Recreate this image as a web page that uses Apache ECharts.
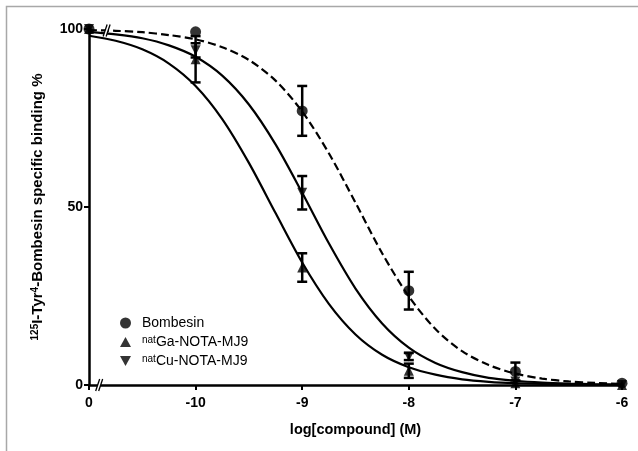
<!DOCTYPE html>
<html>
<head>
<meta charset="utf-8">
<script src="https://cdn.jsdelivr.net/npm/echarts@6/dist/echarts.min.js"></script>
<style>html,body{margin:0;padding:0;background:#fff;}#c{width:638px;height:451px;}</style>
</head>
<body>
<div id="c"></div>
<script>
// x positions: -11 stands for the "0" (no compound) point
var xPos = [-11, -10, -9, -8, -7, -6];
var xTickLabels = {'-11': '0', '-10': '-10', '-9': '-9', '-8': '-8', '-7': '-7', '-6': '-6'};

var bombesinY = [100, 99.2, 77, 26.5, 3.8, 0.5];
var bombesinErr = [0, 0, 7, 5.3, 2.5, 0];
var gaY = [100, 91.5, 33, 4, 0.5, 0];
var gaErr = [0, 6.5, 4, 2, 0, 0];
var cuY = [100, 94, 54, 8, 1, 0];
var cuErr = [0, 2, 4.7, 1, 0, 0];

// fitted curves, values every 0.25 log unit
var curveX = [-11, -10.75, -10.5, -10.25, -10, -9.75, -9.5, -9.25, -9, -8.75, -8.5,
              -8.25, -8, -7.75, -7.5, -7.25, -7, -6.75, -6.5, -6.25, -6];
var bombesinFit = [99.7, 99.5, 99.1, 98.3, 97.1, 94.9, 91.3, 85.5, 76.8, 65.1, 51.2,
                   37.0, 24.9, 15.7, 9.5, 5.6, 3.2, 1.8, 1.0, 0.6, 0.3];
var gaFit = [98.1, 96.7, 94.3, 90.3, 84.0, 74.7, 62.4, 48.3, 34.4, 22.8, 14.2,
             8.5, 5.0, 2.9, 1.6, 0.9, 0.5, 0.3, 0.2, 0.1, 0.05];
var cuFit = [99.2, 98.5, 97.4, 95.4, 92.2, 86.9, 78.8, 67.6, 54.0, 39.8, 27.1,
             17.3, 10.5, 6.2, 3.6, 2.0, 1.2, 0.7, 0.4, 0.2, 0.1];

var seriesNames = ['Bombesin', 'natGa-NOTA-MJ9', 'natCu-NOTA-MJ9'];
var breakPoints = [[-10.9, 0], [-10.83, 99.6]];

function pairs(xs, ys) { return xs.map(function (x, i) { return [x, ys[i]]; }); }
function triples(xs, ys, es) { return xs.map(function (x, i) { return [x, ys[i], es[i]]; }); }

var FONT = 'Liberation Sans, Arial, sans-serif';
var downTri = 'path://M0,0 L10,0 L5,9 Z';
var upTri = 'path://M5,0 L10,9 L0,9 Z';

function errRender(params, api) {
  var x = api.value(0), y = api.value(1), e = api.value(2);
  if (!e) return null;
  var t = api.coord([x, y + e]), b = api.coord([x, y - e]);
  var w = 5, st = {stroke: '#000', lineWidth: 2.5};
  return {type: 'group', children: [
    {type: 'line', shape: {x1: t[0], y1: t[1], x2: b[0], y2: b[1]}, style: st},
    {type: 'line', shape: {x1: t[0] - w, y1: t[1], x2: t[0] + w, y2: t[1]}, style: st},
    {type: 'line', shape: {x1: b[0] - w, y1: b[1], x2: b[0] + w, y2: b[1]}, style: st}
  ]};
}
function breakRender(params, api) {
  var p = api.coord([api.value(0), api.value(1)]);
  var x = p[0], y = p[1];
  return {type: 'group', children: [
    {type: 'polygon', shape: {points: [[x - 4, y + 6], [x, y - 6], [x + 3, y - 6], [x - 1, y + 6]]}, style: {fill: '#fff'}},
    {type: 'line', shape: {x1: x - 4, y1: y + 6, x2: x, y2: y - 6}, style: {stroke: '#000', lineWidth: 1.3}},
    {type: 'line', shape: {x1: x - 1, y1: y + 6, x2: x + 3, y2: y - 6}, style: {stroke: '#000', lineWidth: 1.3}}
  ]};
}

var chart = echarts.init(document.getElementById('c'), null, {renderer: 'canvas'});
chart.setOption({
  backgroundColor: '#fff',
  animation: false,
  textStyle: {fontFamily: FONT},
  graphic: [{
    type: 'polyline', silent: true,
    shape: {points: [[6.5, 451], [6.5, 6.5], [638, 6.5]]},
    style: {stroke: '#a8a8a8', lineWidth: 1.5, fill: null}
  }],
  grid: {left: 89, right: 16, top: 29, bottom: 66},
  xAxis: {
    type: 'value', min: -11, max: -6, interval: 1,
    axisLine: {lineStyle: {color: '#000', width: 2.5}},
    axisTick: {show: true, length: 5, lineStyle: {color: '#000', width: 2}},
    splitLine: {show: false},
    axisLabel: {color: '#000', fontWeight: 'bold', fontSize: 14, fontFamily: FONT, margin: 11,
      formatter: function (v) { return xTickLabels[String(v)]; }},
    name: 'log[compound] (M)', nameLocation: 'middle', nameGap: 37,
    nameTextStyle: {color: '#000', fontWeight: 'bold', fontSize: 14.5, fontFamily: FONT}
  },
  yAxis: {
    type: 'value', min: 0, max: 100, interval: 50,
    axisLine: {show: true, lineStyle: {color: '#000', width: 2.5}},
    axisTick: {show: true, length: 5, lineStyle: {color: '#000', width: 2}},
    splitLine: {show: false},
    axisLabel: {color: '#000', fontWeight: 'bold', fontSize: 14, fontFamily: FONT, margin: 6},
    name: '{sup|125}{m|I-Tyr}{sup|4}{m|-Bombesin specific binding %}',
    nameLocation: 'middle', nameGap: 44,
    nameTextStyle: {color: '#000', fontWeight: 'bold', fontSize: 15, fontFamily: FONT,
      rich: {m: {fontSize: 15, fontWeight: 'bold', fontFamily: FONT, color: '#000', verticalAlign: 'bottom'},
             sup: {fontSize: 10, fontWeight: 'bold', verticalAlign: 'top', fontFamily: FONT, color: '#000'}}}
  },
  legend: {
    orient: 'vertical', left: 115, top: 311, itemWidth: 11, itemHeight: 11, itemGap: 5,
    data: [
      {name: seriesNames[0], icon: 'circle'},
      {name: seriesNames[1], icon: upTri},
      {name: seriesNames[2], icon: downTri}
    ],
    formatter: function (n) { return n.indexOf('nat') === 0 ? '{sup|nat}{m|' + n.slice(3) + '}' : '{m|' + n + '}'; },
    textStyle: {color: '#000', fontSize: 14, fontFamily: FONT, padding: [0, 0, 0, 6],
      rich: {m: {fontSize: 14, fontFamily: FONT, color: '#000', verticalAlign: 'bottom'},
             sup: {fontSize: 10, fontFamily: FONT, color: '#000', verticalAlign: 'top'}}},
    itemStyle: {color: '#000'}
  },
  series: [
    {type: 'line', name: 'fitB', data: pairs(curveX, bombesinFit), smooth: 0.3, showSymbol: false,
      lineStyle: {color: '#000', width: 2.2, type: [8, 4]}, silent: true, z: 1},
    {type: 'line', name: 'fitG', data: pairs(curveX, gaFit), smooth: 0.3, showSymbol: false,
      lineStyle: {color: '#000', width: 2.2}, silent: true, z: 1},
    {type: 'line', name: 'fitC', data: pairs(curveX, cuFit), smooth: 0.3, showSymbol: false,
      lineStyle: {color: '#000', width: 2.2}, silent: true, z: 1},
    {type: 'custom', name: 'errB', renderItem: errRender, data: triples(xPos, bombesinY, bombesinErr), z: 3, clip: false},
    {type: 'custom', name: 'errG', renderItem: errRender, data: triples(xPos, gaY, gaErr), z: 3, clip: false},
    {type: 'custom', name: 'errC', renderItem: errRender, data: triples(xPos, cuY, cuErr), z: 3, clip: false},
    {type: 'scatter', name: seriesNames[0], data: pairs(xPos, bombesinY), symbol: 'circle', symbolSize: 11,
      itemStyle: {color: '#000'}, z: 4, clip: false},
    {type: 'scatter', name: seriesNames[1], data: pairs(xPos, gaY), symbol: upTri, symbolSize: [10, 10],
      itemStyle: {color: '#000'}, z: 4, clip: false},
    {type: 'scatter', name: seriesNames[2], data: pairs(xPos, cuY), symbol: downTri, symbolSize: [10, 10],
      itemStyle: {color: '#000'}, z: 4, clip: false},
    {type: 'custom', name: 'breaks', renderItem: breakRender, data: breakPoints, z: 5, clip: false}
  ]
});
</script>
</body>
</html>
